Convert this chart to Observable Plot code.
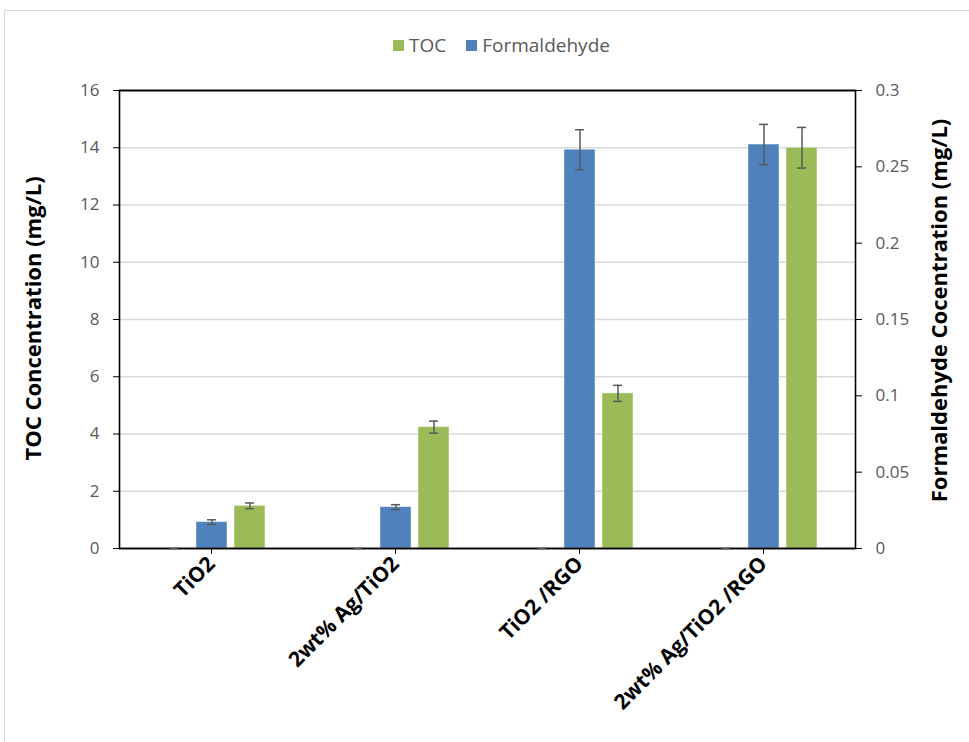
<!DOCTYPE html>
<html>
<head>
<meta charset="utf-8">
<script src="https://cdn.jsdelivr.net/npm/d3@7"></script>
<script src="https://cdn.jsdelivr.net/npm/@observablehq/plot@0.6"></script>
<style>
  html, body { margin: 0; padding: 0; background: #fff; overflow: hidden; }
  #chart { position: relative; width: 969px; height: 742px; overflow: hidden; font-family: "Open Sans", sans-serif; }
  #box { position: absolute; left: 4px; top: 10px; width: 1000px; height: 800px; border: 1.5px solid #d9d9d9; box-sizing: border-box; }
  #legend { position: absolute; left: 393px; top: 32px; display: flex; align-items: center; font-size: 19px; color: #595959; }
  #legend .sw { width: 11px; height: 11px; display: inline-block; margin-right: 5px; }
  #legend .item { display: flex; align-items: center; margin-right: 20px; }
  #plot { position: absolute; left: 0; top: 0; }
</style>
</head>
<body>
<div id="chart">
  <div id="box"></div>
  <div id="legend">
    <span class="item"><span class="sw" style="background:#9BBB59"></span>TOC</span>
    <span class="item"><span class="sw" style="background:#4F81BD"></span>Formaldehyde</span>
  </div>
  <div id="plot"></div>
</div>
<script>
// Catalysts
const categories = ["TiO2", "2wt% Ag/TiO2", "TiO2 /RGO", "2wt% Ag/TiO2 /RGO"];

// TOC concentration (mg/L), left axis
const tocValues = [1.49, 4.24, 5.42, 14.0];
const tocErrors = [0.10, 0.21, 0.28, 0.71];

// Formaldehyde concentration (mg/L), right axis
const formaldehydeValues = [0.0173, 0.0271, 0.2612, 0.2646];
const formaldehydeErrors = [0.0015, 0.0016, 0.0131, 0.0132];

// Empty series occupying the first slot of each group
const blankValues = [0, 0, 0, 0];
const blankErrors = [0, 0, 0, 0];

// Axis ticks
const leftTicks = [0, 2, 4, 6, 8, 10, 12, 14, 16];
const rightTicks = [0, 0.05, 0.1, 0.15, 0.2, 0.25, 0.3];

const seriesNames = ["Blank", "Formaldehyde", "TOC"];
const seriesColors = ["none", "#4F81BD", "#9BBB59"];

const leftMax = 16, rightMax = 0.3;
const toLeft = v => v * leftMax / rightMax;

const rows = [];
categories.forEach((cat, i) => {
  rows.push({cat, series: "Blank", value: blankValues[i], lo: blankValues[i] - blankErrors[i], hi: blankValues[i] + blankErrors[i]});
  rows.push({cat, series: "Formaldehyde",
    value: toLeft(formaldehydeValues[i]),
    lo: toLeft(formaldehydeValues[i] - formaldehydeErrors[i]),
    hi: toLeft(formaldehydeValues[i] + formaldehydeErrors[i])});
  rows.push({cat, series: "TOC", value: tocValues[i], lo: tocValues[i] - tocErrors[i], hi: tocValues[i] + tocErrors[i]});
});
const barRows = rows.filter(d => d.series !== "Blank");

const fmtRight = v => d3.format("~g")(+(v * rightMax / leftMax).toFixed(4));

const chart = Plot.plot({
  width: 969,
  height: 742,
  marginLeft: 118,
  marginRight: 113,
  marginTop: 90,
  marginBottom: 194,
  style: {fontFamily: "'Open Sans', sans-serif", background: "transparent"},
  fx: {domain: categories, padding: 0, axis: null},
  x: {domain: seriesNames, paddingInner: 0.195, paddingOuter: 1, axis: null},
  y: {domain: [0, leftMax], axis: null},
  color: {domain: seriesNames, range: seriesColors},
  marks: [
    Plot.gridY(leftTicks.filter(t => t > 0 && t < leftMax), {stroke: "#d9d9d9", strokeOpacity: 1, strokeWidth: 1.3}),
    Plot.barY(barRows, {fx: "cat", x: "series", y: "value", fill: "series", stroke: "#ffffff", strokeOpacity: 0.45, strokeWidth: 1}),
    Plot.ruleY([0, leftMax], {stroke: "#000", strokeWidth: 1.6}),
    Plot.frame({facet: "super", stroke: "#000", strokeWidth: 1.6}),
    Plot.ruleX(rows, {fx: "cat", x: "series", y1: "lo", y2: "hi", stroke: "#595959", strokeWidth: 1.5}),
    Plot.tickY(rows, {fx: "cat", x: "series", y: "lo", insetLeft: 11, insetRight: 11, stroke: "#595959", strokeWidth: 1.5}),
    Plot.tickY(rows, {fx: "cat", x: "series", y: "hi", insetLeft: 11, insetRight: 11, stroke: "#595959", strokeWidth: 1.5}),
    Plot.axisY({anchor: "left", ticks: leftTicks, tickSize: 6, tickPadding: 14, fontSize: 17, stroke: "#000", fill: "#595959", label: null}),
    Plot.axisY({anchor: "right", ticks: rightTicks.map(toLeft), tickFormat: fmtRight, tickSize: 6, tickPadding: 14, fontSize: 17, stroke: "#000", fill: "#595959", label: null}),
    Plot.axisFx({anchor: "bottom", tickSize: 6, tickRotate: -45, tickPadding: 6, fontSize: 21, fontWeight: "bold", stroke: "#000", fill: "#000", label: null}),
    Plot.text(["TOC Concentration (mg/L)"], {facet: "super", frameAnchor: "left", textAnchor: "middle", dx: -86, dy: -1, rotate: -90, fontSize: 22, fontWeight: "bold", fill: "#000"}),
    Plot.text(["Formaldehyde Cocentration (mg/L)"], {facet: "super", frameAnchor: "right", textAnchor: "middle", dx: 84, dy: -9, rotate: -90, fontSize: 22, fontWeight: "bold", fill: "#000"})
  ]
});
document.getElementById("plot").appendChild(chart);
</script>
</body>
</html>
